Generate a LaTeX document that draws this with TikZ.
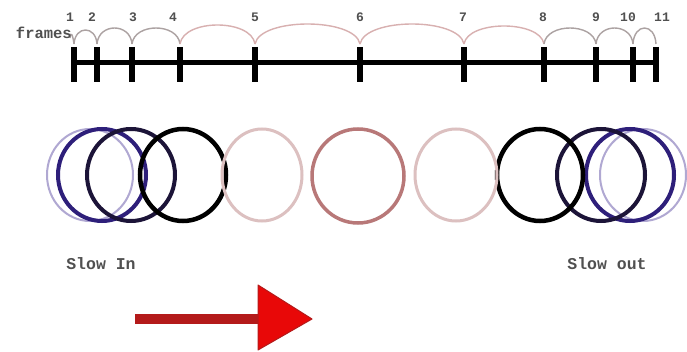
\documentclass[tikz,border=0pt]{standalone}
\usepackage{fontspec}
\setmonofont{Liberation Mono}
\definecolor{txt}{HTML}{505050}
\definecolor{arcgrey}{HTML}{ACA2A2}
\definecolor{arcpink}{HTML}{D8B0B0}
\definecolor{faintblue}{HTML}{B0A8D2}
\definecolor{navy}{HTML}{2E1F7A}
\definecolor{navyblack}{HTML}{1C1438}
\definecolor{lightpink}{HTML}{DCC0C0}
\definecolor{rose}{HTML}{B87878}
\definecolor{shaft}{HTML}{B41A1A}
\definecolor{headred}{HTML}{E80808}
\begin{document}
\begin{tikzpicture}[x=1pt,y=-1pt,
  lbl/.style={font=\ttfamily\bfseries\fontsize{13}{13}\selectfont, text=txt, inner sep=0pt},
  captext/.style={font=\ttfamily\bfseries\fontsize{16.5}{16.5}\selectfont, text=txt, inner sep=0pt},
  tickline/.style={line width=6pt, black},
  axis/.style={line width=5pt, black},
  ring/.style={line width=#1},
  ring/.default=4pt]
\useasboundingbox[fill=white] (0,0) rectangle (687,352);

% timeline ticks
\foreach \n/\x in {1/74,2/97,3/132,4/180,5/255,6/360,7/464,8/544,9/596,10/633,11/656}{
  \coordinate (t\n) at (\x,63);
  \coordinate (tt\n) at (\x,44);
}
\coordinate (t0) at (70,38);
\draw[axis] (t1) -- (t11);
\foreach \n in {1,...,11}{
  \draw[tickline] ([yshift=16pt]t\n) -- ([yshift=-19pt]t\n);
}

% arcs
\foreach \a/\b/\xa/\xb/\p/\c in {1/2/74/97/30/arcgrey,2/3/97/132/28/arcgrey,3/4/132/180/28/arcgrey,4/5/180/255/25/arcpink,5/6/255/360/24/arcpink,6/7/360/464/24/arcpink,7/8/464/544/26/arcpink,8/9/544/596/28/arcgrey,9/10/596/633/28/arcgrey,10/11/633/656/28/arcgrey}{
  \pgfmathsetmacro\cy{44-(44-\p)/0.75}
  \pgfmathsetmacro\ca{\xa+0.05*(\xb-\xa)}
  \pgfmathsetmacro\cb{\xb-0.05*(\xb-\xa)}
  \draw[\c, line width=1.4pt] (tt\a) .. controls (\ca,\cy) and (\cb,\cy) .. (tt\b);
}
\draw[arcgrey, line width=1.4pt] (t0) .. controls (71,30) and (73,36) .. (tt1);

% numbers
\foreach \n/\x in {1/70,2/92,3/133,4/173,5/255,6/360,7/463,8/543,9/596,10/628,11/662}{
  \node[lbl] (num\n) at (\x,17) {\n};
}
\node[lbl, font=\ttfamily\bfseries\fontsize{15.5}{15.5}\selectfont, anchor=east] (frames) at (72,33) {frames};

% circles
\coordinate (c1) at (90,175);
\coordinate (c2) at (102,175);
\coordinate (c3) at (131,175);
\coordinate (c4) at (183,175);
\coordinate (c5) at (262,175);
\coordinate (c6) at (358,176);
\coordinate (c7) at (456,175);
\coordinate (c8) at (540,175);
\coordinate (c9) at (601,175);
\coordinate (c10) at (630,175);
\coordinate (c11) at (643,175);
\draw[ring=2pt, faintblue] (c1) ellipse [x radius=43, y radius=46];
\draw[ring=2pt, faintblue] (c11) ellipse [x radius=43, y radius=46];
\draw[ring, navy] (c2) ellipse [x radius=44, y radius=46];
\draw[ring, navy] (c10) ellipse [x radius=44, y radius=46];
\draw[ring, navyblack] (c3) ellipse [x radius=44, y radius=46];
\draw[ring, navyblack] (c9) ellipse [x radius=44, y radius=46];
\draw[ring=4.5pt, black] (c4) ellipse [x radius=43, y radius=46];
\draw[ring=4.5pt, black] (c8) ellipse [x radius=43, y radius=46];
\draw[ring=3pt, lightpink] (c5) ellipse [x radius=40, y radius=46];
\draw[ring=3pt, lightpink] (c7) ellipse [x radius=41, y radius=46];
\draw[ring=3.5pt, rose] (c6) ellipse [x radius=46, y radius=47];

% captions
\node[captext] (slowin) at (101,264) {Slow In};
\node[captext] (slowout) at (607,264) {Slow out};

% arrow
\coordinate (as) at (135,319);
\coordinate (ah) at (258,319);
\coordinate (tip) at (312,319);
\draw[line width=10pt, shaft] (as) -- ([xshift=2pt]ah);
\filldraw[fill=headred, draw=shaft, line width=1pt, line join=round]
  ([yshift=34pt]ah) -- (tip) -- ([yshift=-31pt]ah) -- cycle;
\end{tikzpicture}
\end{document}
